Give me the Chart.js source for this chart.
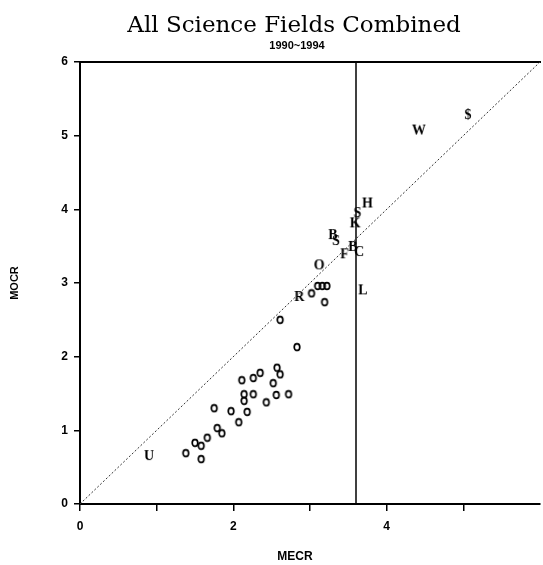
<!DOCTYPE html>
<html>
<head>
<meta charset="utf-8">
<script src="https://cdn.jsdelivr.net/npm/chart.js@4/dist/chart.umd.min.js"></script>
<style>
  html, body { margin: 0; padding: 0; background: #fff; }
  #chart { display: block; }
</style>
</head>
<body>
<canvas id="chart" width="543" height="565"></canvas>
<script>
// unlabeled fields (drawn as "o")
const circleX = [3.10, 3.16, 3.22, 3.02, 3.19, 2.61, 2.83, 2.57, 2.61, 2.35, 2.26, 2.11, 2.52,
                 2.72, 2.56, 2.26, 2.14, 2.14, 2.43, 2.18, 1.97, 1.75, 2.07, 1.79, 1.85, 1.66,
                 1.50, 1.58, 1.38, 1.58];
const circleY = [2.96, 2.96, 2.96, 2.86, 2.74, 2.50, 2.13, 1.85, 1.76, 1.78, 1.71, 1.68, 1.64,
                 1.49, 1.48, 1.49, 1.49, 1.40, 1.38, 1.25, 1.26, 1.30, 1.11, 1.03, 0.96, 0.90,
                 0.83, 0.79, 0.69, 0.61];

// labeled fields
const letterNames = ['U', 'R', 'O', 'F', 'B', 'S', 'B', 'C', 'K', 'S', 'H', 'L', 'W', '$'];
const letterX = [0.90, 2.86, 3.12, 3.45, 3.30, 3.34, 3.56, 3.64, 3.59, 3.62, 3.75, 3.69, 4.42, 5.06];
const letterY = [0.65, 2.81, 3.24, 3.39, 3.65, 3.57, 3.49, 3.42, 3.81, 3.95, 4.08, 2.90, 5.07, 5.28];

const meanMECR = 3.60;
const axisMin = 0;
const axisMax = 6;
const xTickLabels = ['0', '', '2', '', '4', '', ''];
const yTickLabels = ['0', '1', '2', '3', '4', '5', '6'];

const titleText = 'All Science Fields Combined';
const subtitleText = '1990~1994';
const xTitle = 'MECR';
const yTitle = 'MOCR';

const ink = '#000';
const sansBold = '"Liberation Sans Narrow", "Liberation Sans", Arial, sans-serif';

function makeGlyph(ch) {
    const c = document.createElement('canvas');
    c.width = 16;
    c.height = 18;
    const g = c.getContext('2d');
    g.fillStyle = ink;
    g.font = 'bold 14px "Liberation Serif", "Times New Roman", serif';
    g.textAlign = 'center';
    g.textBaseline = 'middle';
    g.fillText(ch, 8, 9.5);
    return c;
}
const glyphs = letterNames.map(makeGlyph);

// small "o" marker as in the printed plot
const ringMarker = (function () {
    const c = document.createElement('canvas');
    c.width = 10;
    c.height = 10;
    const g = c.getContext('2d');
    g.strokeStyle = ink;
    g.lineWidth = 1.7;
    g.beginPath();
    g.ellipse(5, 5, 2.8, 3.4, 0, 0, Math.PI * 2);
    g.stroke();
    return c;
})();

const textPlugin = {
    id: 'figureText',
    afterDraw(chart) {
        const ctx = chart.ctx;
        ctx.save();
        ctx.fillStyle = ink;
        ctx.textAlign = 'center';
        ctx.textBaseline = 'alphabetic';
        ctx.font = '23px "DejaVu Serif", "Liberation Serif", serif';
        ctx.fillText(titleText, 294, 32);
        ctx.font = 'bold 11px ' + sansBold;
        ctx.fillText(subtitleText, 297, 49);
        ctx.font = 'bold 12px ' + sansBold;
        ctx.fillText(xTitle, 295, 560);
        ctx.restore();
    }
};

const circlePoints = circleX.map(function (x, i) { return { x: x, y: circleY[i] }; });
const letterPoints = letterX.map(function (x, i) { return { x: x, y: letterY[i] }; });

new Chart(document.getElementById('chart').getContext('2d'), {
    type: 'scatter',
    data: {
        datasets: [
            {
                type: 'line',
                data: [{ x: axisMin, y: axisMin }, { x: axisMax, y: axisMax }],
                borderColor: '#333',
                borderWidth: 1,
                borderDash: [2, 2],
                pointRadius: 0,
                pointHoverRadius: 0,
                fill: false
            },
            {
                type: 'line',
                data: [{ x: meanMECR, y: axisMin }, { x: meanMECR, y: axisMax }],
                borderColor: ink,
                borderWidth: 1.5,
                pointRadius: 0,
                pointHoverRadius: 0,
                fill: false
            },
            {
                data: circlePoints,
                pointStyle: ringMarker,
                pointRadius: 0.5,
                pointHoverRadius: 0,
                pointBorderWidth: 0
            },
            {
                data: letterPoints,
                pointStyle: function (ctx) { return glyphs[ctx.dataIndex]; },
                pointRadius: 0.5,
                pointHoverRadius: 0,
                pointBorderWidth: 0
            }
        ]
    },
    options: {
        responsive: false,
        animation: false,
        events: [],
        layout: { padding: { top: 62, right: 3, bottom: 0, left: 0 } },
        plugins: {
            legend: { display: false },
            tooltip: { enabled: false }
        },
        scales: {
            x: {
                type: 'linear',
                min: axisMin,
                max: axisMax,
                afterFit: function (scale) {
                    scale.height = 61;
                    scale.paddingLeft = 0;
                    scale.paddingRight = 0;
                },
                ticks: {
                    stepSize: 1,
                    color: ink,
                    padding: 8,
                    maxRotation: 0,
                    font: { family: sansBold, size: 12, weight: 'bold' },
                    callback: function (v) { return xTickLabels[v]; }
                },
                grid: {
                    drawOnChartArea: false,
                    drawTicks: true,
                    tickLength: 7,
                    lineWidth: 1.5,
                    tickColor: function (ctx) {
                        return ctx.tick && ctx.tick.value === axisMax ? 'rgba(0,0,0,0)' : ink;
                    }
                },
                border: { display: true, color: ink, width: 2 }
            },
            x2: {
                type: 'linear',
                position: 'top',
                min: axisMin,
                max: axisMax,
                afterFit: function (scale) {
                    scale.height = 0;
                    scale.paddingLeft = 0;
                    scale.paddingRight = 0;
                },
                ticks: { display: false },
                grid: { display: false, drawTicks: false },
                border: { display: true, color: ink, width: 2 }
            },
            y: {
                type: 'linear',
                min: axisMin,
                max: axisMax,
                afterFit: function (scale) { scale.width = 80; },
                ticks: {
                    stepSize: 1,
                    color: ink,
                    padding: 6,
                    font: { family: sansBold, size: 12, weight: 'bold' },
                    callback: function (v) { return yTickLabels[v]; }
                },
                grid: { drawOnChartArea: false, drawTicks: true, tickLength: 6, color: ink, lineWidth: 1.5 },
                border: { display: true, color: ink, width: 2 },
                title: {
                    display: true,
                    text: yTitle,
                    color: ink,
                    padding: { top: 8, bottom: 0 },
                    font: { family: sansBold, size: 11, weight: 'bold' }
                }
            }
        }
    },
    plugins: [textPlugin]
});
</script>
</body>
</html>
